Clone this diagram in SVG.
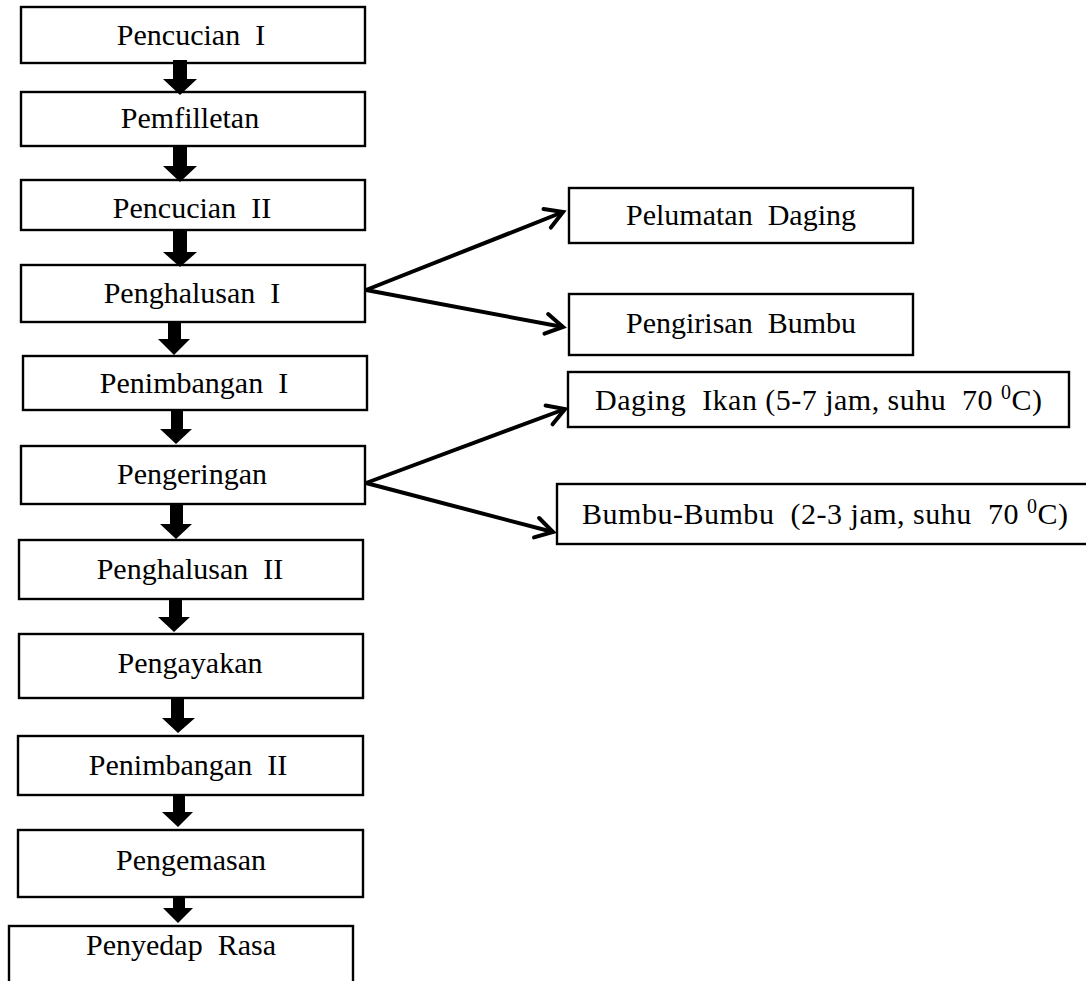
<svg xmlns="http://www.w3.org/2000/svg" width="1086" height="981" viewBox="0 0 1086 981">
<style>
  .box { fill: #ffffff; stroke: #000000; stroke-width: 2.4; }
  .lbl { font-family: "Liberation Serif", "Times New Roman", serif; font-size: 30px; fill: #000000; white-space: pre; }
  .mid { text-anchor: middle; }
  .blk { fill: #000000; stroke: none; }
  .ln { stroke: #000000; stroke-width: 4; fill: none; marker-end: url(#chev); }
</style>
<defs>
  <marker id="chev" markerUnits="userSpaceOnUse" viewBox="-22 -13 26 26" markerWidth="26" markerHeight="26" refX="0" refY="0" orient="auto">
    <path d="M -17 -10 L 0 0 L -17 10" fill="none" stroke="#000000" stroke-width="4" stroke-linecap="round" stroke-linejoin="miter"/>
  </marker>
</defs>
<rect x="0" y="0" width="1086" height="981" fill="#ffffff"/>

<g id="n1"><rect class="box" x="21" y="7" width="344" height="56"/><text class="lbl mid" x="191" y="45">Pencucian  I</text></g>
<g id="n2"><rect class="box" x="21" y="92" width="344" height="54"/><text class="lbl mid" x="190" y="128">Pemfilletan</text></g>
<g id="n3"><rect class="box" x="21" y="180" width="344" height="50"/><text class="lbl mid" x="192" y="218">Pencucian  II</text></g>
<g id="n4"><rect class="box" x="21" y="265" width="344" height="57"/><text class="lbl mid" x="192" y="303">Penghalusan  I</text></g>
<g id="n5"><rect class="box" x="23" y="356" width="344" height="54"/><text class="lbl mid" x="194" y="393">Penimbangan  I</text></g>
<g id="n6"><rect class="box" x="21" y="446" width="344" height="58"/><text class="lbl mid" x="192" y="484">Pengeringan</text></g>
<g id="n7"><rect class="box" x="19" y="540" width="344" height="59"/><text class="lbl mid" x="190" y="579">Penghalusan  II</text></g>
<g id="n8"><rect class="box" x="19" y="634" width="344" height="64"/><text class="lbl mid" x="190" y="673">Pengayakan</text></g>
<g id="n9"><rect class="box" x="18" y="736" width="345" height="59"/><text class="lbl mid" x="188" y="775">Penimbangan  II</text></g>
<g id="n10"><rect class="box" x="18" y="830" width="345" height="67"/><text class="lbl mid" x="191" y="870">Pengemasan</text></g>
<g id="n11"><rect class="box" x="9" y="926" width="344" height="80"/><text class="lbl mid" x="181" y="955">Penyedap  Rasa</text></g>

<g id="n12"><rect class="box" x="569" y="188" width="344" height="55"/><text class="lbl mid" x="741" y="225">Pelumatan  Daging</text></g>
<g id="n13"><rect class="box" x="569" y="294" width="344" height="61"/><text class="lbl mid" x="741" y="333">Pengirisan  Bumbu</text></g>
<g id="n14"><rect class="box" x="568" y="372" width="501" height="55"/><text class="lbl" x="595" y="410" textLength="447" lengthAdjust="spacing">Daging  Ikan (5-7 jam, suhu  70 <tspan font-size="20" dy="-11">0</tspan><tspan dy="11">C)</tspan></text></g>
<g id="n15"><rect class="box" x="557" y="484" width="540" height="60"/><text class="lbl" x="582" y="524" textLength="486" lengthAdjust="spacing">Bumbu-Bumbu  (2-3 jam, suhu  70 <tspan font-size="20" dy="-11">0</tspan><tspan dy="11">C)</tspan></text></g>

<g id="connectors">
  <path class="blk" d="M173 60 H187 V79 H197 L180 95 L163 79 H173 Z"/>
  <path class="blk" d="M173 146 H187 V166 H197 L180 182 L163 166 H173 Z"/>
  <path class="blk" d="M173 230 H187 V252 H197 L180 267 L163 252 H173 Z"/>
  <path class="blk" d="M168 322 H181 V339 H190 L174 355 L158 339 H168 Z"/>
  <path class="blk" d="M171 410 H183 V429 H192 L176 444 L160 429 H171 Z"/>
  <path class="blk" d="M170 504 H183 V524 H192 L176 539 L160 524 H170 Z"/>
  <path class="blk" d="M169 599 H182 V617 H190 L174 632 L158 617 H169 Z"/>
  <path class="blk" d="M171 698 H184 V718 H195 L178 733 L162 718 H171 Z"/>
  <path class="blk" d="M173 795 H185 V812 H193 L178 827 L162 812 H173 Z"/>
  <path class="blk" d="M173 897 H185 V908 H193 L178 923 L163 908 H173 Z"/>
  <line class="ln" x1="366" y1="290" x2="563" y2="212"/>
  <line class="ln" x1="366" y1="290" x2="563" y2="327"/>
  <line class="ln" x1="366" y1="483" x2="565" y2="409"/>
  <line class="ln" x1="366" y1="483" x2="553" y2="532"/>
</g>
</svg>
